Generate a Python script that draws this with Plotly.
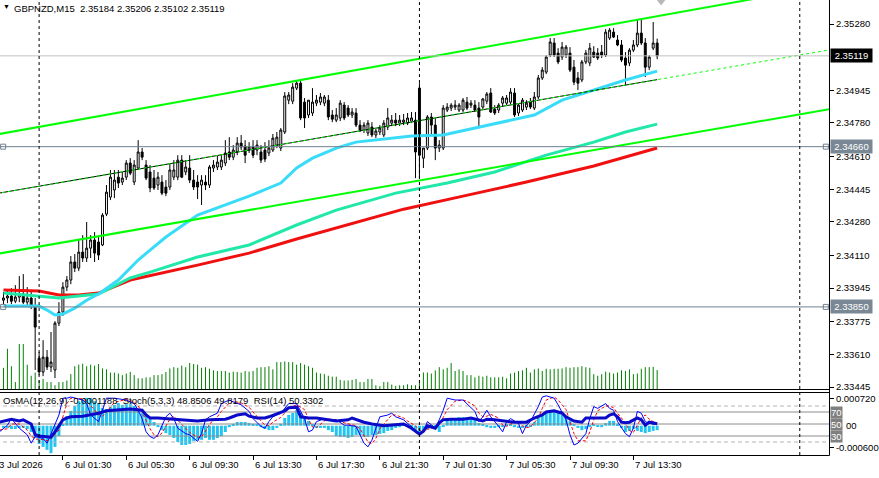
import plotly.graph_objects as go

# ---------------- data ----------------
bar_idx = list(range(-9, 157))   # 15-min bars; 0 = 6 Jul 00:00

opens = [2.33884, 2.33895, 2.33905, 2.33879, 2.33900, 2.33915, 2.33874, 2.33895, 2.33854,
         2.33591, 2.33521, 2.33596, 2.33546, 2.33531, 2.33768, 2.33824, 2.33950, 2.33986, 2.34077,
         2.34046, 2.34127, 2.34097, 2.34147, 2.34188, 2.34178, 2.34163, 2.34319, 2.34405, 2.34441,
         2.34506, 2.34481, 2.34506, 2.34577, 2.34481, 2.34552, 2.34633, 2.34567, 2.34532, 2.34501,
         2.34466, 2.34481, 2.34456, 2.34456, 2.34506, 2.34506, 2.34592, 2.34532, 2.34552, 2.34491,
         2.34481, 2.34466, 2.34481, 2.34466, 2.34552, 2.34557, 2.34557, 2.34577, 2.34633, 2.34607,
         2.34633, 2.34678, 2.34663, 2.34643, 2.34658, 2.34643, 2.34633, 2.34643, 2.34628, 2.34643,
         2.34668, 2.34653, 2.34734, 2.34895, 2.34890, 2.34956, 2.34981, 2.34885, 2.34820, 2.34830,
         2.34880, 2.34885, 2.34880, 2.34895, 2.34820, 2.34794, 2.34805, 2.34870, 2.34855, 2.34820,
         2.34830, 2.34769, 2.34744, 2.34729, 2.34759, 2.34719, 2.34734, 2.34719, 2.34759, 2.34779,
         2.34794, 2.34779, 2.34784, 2.34779, 2.34789, 2.34794, 2.34956, 2.34602, 2.34653, 2.34810,
         2.34769, 2.34653, 2.34653, 2.34845, 2.34855, 2.34860, 2.34845, 2.34845, 2.34885, 2.34870,
         2.34870, 2.34855, 2.34860, 2.34890, 2.34931, 2.34850, 2.34845, 2.34880, 2.34880, 2.34885,
         2.34931, 2.34830, 2.34845, 2.34860, 2.34885, 2.34855, 2.34911, 2.35007, 2.35037, 2.35123,
         2.35184, 2.35133, 2.35113, 2.35123, 2.35133, 2.35062, 2.35007, 2.34997, 2.35088, 2.35083,
         2.35138, 2.35133, 2.35138, 2.35123, 2.35209, 2.35239, 2.35199, 2.35174, 2.35108, 2.35083,
         2.35148, 2.35174, 2.35234, 2.35184, 2.35062, 2.35158, 2.35184]
highs = [2.33925, 2.33935, 2.33945, 2.33960, 2.34006, 2.34016, 2.33950, 2.33930, 2.33895,
         2.33622, 2.33682, 2.33632, 2.33723, 2.33778, 2.33874, 2.33975, 2.34006, 2.34107, 2.34117,
         2.34188, 2.34213, 2.34279, 2.34213, 2.34228, 2.34208, 2.34324, 2.34466, 2.34542, 2.34542,
         2.34542, 2.34532, 2.34592, 2.34602, 2.34592, 2.34693, 2.34653, 2.34592, 2.34567, 2.34542,
         2.34532, 2.34516, 2.34491, 2.34577, 2.34592, 2.34617, 2.34617, 2.34592, 2.34617, 2.34542,
         2.34516, 2.34516, 2.34516, 2.34567, 2.34592, 2.34617, 2.34617, 2.34693, 2.34708, 2.34668,
         2.34708, 2.34719, 2.34693, 2.34683, 2.34693, 2.34693, 2.34668, 2.34683, 2.34693, 2.34724,
         2.34734, 2.34754, 2.34936, 2.34936, 2.34981, 2.34992, 2.34992, 2.34906, 2.34895, 2.34956,
         2.34921, 2.34931, 2.34921, 2.34921, 2.34845, 2.34855, 2.34895, 2.34885, 2.34870, 2.34855,
         2.34855, 2.34794, 2.34784, 2.34794, 2.34784, 2.34754, 2.34769, 2.34794, 2.34855, 2.34820,
         2.34830, 2.34820, 2.34825, 2.34830, 2.34835, 2.34835, 2.34981, 2.34653, 2.34820, 2.34830,
         2.34805, 2.34693, 2.34870, 2.34880, 2.34880, 2.34895, 2.34880, 2.34906, 2.34911, 2.34895,
         2.34895, 2.34885, 2.34906, 2.34936, 2.34956, 2.34870, 2.34880, 2.34916, 2.34921, 2.34956,
         2.34956, 2.34880, 2.34906, 2.34895, 2.34906, 2.34936, 2.35022, 2.35062, 2.35123, 2.35209,
         2.35209, 2.35158, 2.35189, 2.35174, 2.35163, 2.35098, 2.35037, 2.35098, 2.35148, 2.35184,
         2.35168, 2.35158, 2.35174, 2.35254, 2.35259, 2.35259, 2.35224, 2.35199, 2.35138, 2.35158,
         2.35199, 2.35300, 2.35300, 2.35209, 2.35123, 2.35290, 2.35206]
lows = [2.33864, 2.33869, 2.33864, 2.33869, 2.33874, 2.33864, 2.33859, 2.33839, 2.33531,
        2.33505, 2.33500, 2.33531, 2.33521, 2.33490, 2.33753, 2.33804, 2.33930, 2.33965, 2.34026,
        2.34031, 2.34077, 2.34077, 2.34097, 2.34077, 2.34087, 2.34157, 2.34309, 2.34390, 2.34400,
        2.34451, 2.34466, 2.34491, 2.34516, 2.34466, 2.34542, 2.34592, 2.34491, 2.34430, 2.34441,
        2.34441, 2.34415, 2.34410, 2.34441, 2.34491, 2.34491, 2.34501, 2.34516, 2.34476, 2.34441,
        2.34395, 2.34365, 2.34441, 2.34451, 2.34532, 2.34542, 2.34542, 2.34562, 2.34592, 2.34592,
        2.34617, 2.34643, 2.34577, 2.34628, 2.34602, 2.34617, 2.34577, 2.34582, 2.34612, 2.34633,
        2.34653, 2.34638, 2.34724, 2.34875, 2.34875, 2.34946, 2.34794, 2.34754, 2.34805, 2.34815,
        2.34865, 2.34870, 2.34865, 2.34794, 2.34784, 2.34784, 2.34789, 2.34794, 2.34810, 2.34805,
        2.34759, 2.34734, 2.34729, 2.34714, 2.34708, 2.34703, 2.34719, 2.34708, 2.34744, 2.34764,
        2.34764, 2.34764, 2.34769, 2.34769, 2.34779, 2.34501, 2.34501, 2.34552, 2.34643, 2.34719,
        2.34592, 2.34633, 2.34643, 2.34835, 2.34840, 2.34845, 2.34835, 2.34835, 2.34845, 2.34855,
        2.34835, 2.34764, 2.34845, 2.34875, 2.34830, 2.34820, 2.34830, 2.34865, 2.34870, 2.34875,
        2.34810, 2.34815, 2.34835, 2.34845, 2.34850, 2.34845, 2.34901, 2.34997, 2.35027, 2.35113,
        2.35113, 2.35077, 2.35098, 2.35108, 2.35037, 2.34971, 2.34946, 2.34986, 2.35077, 2.35067,
        2.35108, 2.35098, 2.35108, 2.35113, 2.35199, 2.35209, 2.35168, 2.35088, 2.34971, 2.35067,
        2.35138, 2.35163, 2.35174, 2.35012, 2.35047, 2.35148, 2.35102]
closes = [2.33895, 2.33905, 2.33879, 2.33900, 2.33915, 2.33874, 2.33895, 2.33854, 2.33748,
          2.33521, 2.33596, 2.33546, 2.33571, 2.33768, 2.33824, 2.33950, 2.33986, 2.34077, 2.34046,
          2.34127, 2.34097, 2.34147, 2.34188, 2.34122, 2.34112, 2.34314, 2.34430, 2.34506, 2.34491,
          2.34476, 2.34501, 2.34577, 2.34526, 2.34567, 2.34633, 2.34607, 2.34501, 2.34451, 2.34451,
          2.34506, 2.34425, 2.34425, 2.34542, 2.34542, 2.34592, 2.34506, 2.34557, 2.34491, 2.34456,
          2.34456, 2.34491, 2.34466, 2.34557, 2.34567, 2.34582, 2.34592, 2.34628, 2.34607, 2.34643,
          2.34678, 2.34658, 2.34617, 2.34658, 2.34617, 2.34668, 2.34592, 2.34597, 2.34653, 2.34703,
          2.34708, 2.34744, 2.34916, 2.34921, 2.34961, 2.34981, 2.34805, 2.34805, 2.34895, 2.34885,
          2.34895, 2.34911, 2.34911, 2.34810, 2.34799, 2.34820, 2.34880, 2.34805, 2.34820, 2.34835,
          2.34769, 2.34744, 2.34769, 2.34779, 2.34719, 2.34739, 2.34754, 2.34779, 2.34805, 2.34794,
          2.34779, 2.34794, 2.34794, 2.34805, 2.34805, 2.34633, 2.34617, 2.34653, 2.34810, 2.34769,
          2.34653, 2.34668, 2.34855, 2.34860, 2.34870, 2.34870, 2.34870, 2.34895, 2.34855, 2.34880,
          2.34845, 2.34810, 2.34901, 2.34926, 2.34835, 2.34830, 2.34870, 2.34906, 2.34906, 2.34936,
          2.34820, 2.34870, 2.34895, 2.34880, 2.34860, 2.34911, 2.35007, 2.35047, 2.35113, 2.35189,
          2.35123, 2.35088, 2.35163, 2.35163, 2.35047, 2.34986, 2.34981, 2.35088, 2.35133, 2.35158,
          2.35113, 2.35108, 2.35123, 2.35239, 2.35249, 2.35214, 2.35174, 2.35098, 2.35072, 2.35148,
          2.35174, 2.35234, 2.35184, 2.35062, 2.35113, 2.35184, 2.35119]

volumes = [70, 130, 75, 25, 145, 145, 80, 45, 55,
           30, 35, 25, 25, 15, 25, 25, 30, 50, 75,
           80, 83, 75, 80, 77, 82, 68, 65, 55, 55,
           52, 47, 52, 57, 47, 37, 37, 40, 40, 47,
           47, 50, 57, 68, 72, 70, 77, 72, 85, 82,
           80, 70, 72, 67, 62, 60, 60, 60, 55, 58,
           57, 55, 60, 58, 60, 70, 72, 72, 75, 65,
           88, 88, 90, 88, 88, 80, 85, 80, 75, 70,
           55, 52, 50, 45, 42, 42, 32, 30, 30, 32,
           35, 25, 25, 35, 35, 15, 12, 25, 25, 17,
           13, 15, 15, 18, 15, 15, 25, 55, 55, 52,
           62, 72, 65, 70, 85, 60, 65, 60, 47, 47,
           40, 45, 42, 45, 40, 40, 40, 42, 37, 52,
           55, 60, 62, 70, 55, 65, 68, 60, 67, 65,
           67, 67, 68, 72, 70, 72, 72, 75, 72, 70,
           50, 45, 50, 58, 55, 52, 55, 62, 60, 65,
           50, 52, 67, 72, 72, 73, 63]

osma = [-0.00006, -0.00006, -0.00009, -0.00009, -0.00006, -0.00006, -0.00009, -0.00017, -0.00033,
        -0.00049, -0.00057, -0.00065, -0.00074, -0.00057, -0.00028, 0.00005, 0.00026, 0.00040, 0.00053,
        0.00066, 0.00069, 0.00075, 0.00075, 0.00066, 0.00061, 0.00048, 0.00045, 0.00050, 0.00056,
        0.00061, 0.00056, 0.00058, 0.00058, 0.00053, 0.00042, 0.00034, 0.00029, 0.00018, 0.00010,
        -0.00004, -0.00012, -0.00020, -0.00025, -0.00033, -0.00044, -0.00052, -0.00052, -0.00049, -0.00041,
        -0.00038, -0.00038, -0.00033, -0.00038, -0.00038, -0.00033, -0.00028, -0.00017, -0.00004, 0.00005,
        0.00010, 0.00010, 0.00010, 0.00007, 0.00005, 0.00005, -0.00004, -0.00009, -0.00012, -0.00012,
        -0.00006, 0.00005, 0.00021, 0.00029, 0.00034, 0.00042, 0.00034, 0.00023, 0.00013, 0.00002,
        -0.00006, -0.00006, -0.00006, -0.00012, -0.00017, -0.00028, -0.00030, -0.00030, -0.00033, -0.00030,
        -0.00025, -0.00025, -0.00030, -0.00030, -0.00025, -0.00025, -0.00022, -0.00020, -0.00014, -0.00012,
        -0.00006, -0.00004, 0.00002, 0.00005, -0.00004, -0.00012, -0.00017, -0.00014, -0.00009, -0.00004,
        -0.00001, -0.00017, -0.00001, 0.00013, 0.00018, 0.00021, 0.00023, 0.00023, 0.00021, 0.00021,
        0.00015, 0.00007, 0.00002, -0.00004, -0.00006, -0.00006, -0.00004, -0.00001, 0.00002, 0.00002,
        -0.00004, -0.00006, -0.00006, -0.00004, -0.00001, 0.00010, 0.00021, 0.00029, 0.00037, 0.00040,
        0.00040, 0.00034, 0.00029, 0.00021, 0.00013, 0.00002, -0.00006, -0.00012, -0.00009, -0.00004,
        0.00005, -0.00001, -0.00004, 0.00007, 0.00013, 0.00013, 0.00005, -0.00006, -0.00017, -0.00014,
        -0.00009, -0.00014, -0.00017, -0.00020, -0.00017, -0.00014, -0.0001188]

# moving averages (read at sample bars)
ma_fast_idx = [-9, 0, 2, 4, 6, 9, 12, 15, 20, 25, 28, 32, 40, 48, 53, 61, 65, 69, 75, 80, 87, 94, 102, 111, 115, 125, 132, 140, 148, 156]
ma_fast = [2.33854, 2.33854, 2.33834, 2.33809, 2.33814, 2.33844, 2.33884, 2.33915, 2.33986, 2.34087,
           2.34137, 2.34203, 2.34314, 2.34375, 2.34410, 2.34476, 2.34552, 2.34602, 2.34653, 2.34683,
           2.34698, 2.34714, 2.34719, 2.34759, 2.34779, 2.34820, 2.34895, 2.34946, 2.34997, 2.35042]
ma_mid_idx = [-9, 3, 5, 15, 23, 28, 40, 53, 65, 75, 90, 103, 115, 128, 140, 148, 156]
ma_mid = [2.33920, 2.33900, 2.33895, 2.33915, 2.33996, 2.34026, 2.34102, 2.34163, 2.34264, 2.34339,
          2.34425, 2.34476, 2.34532, 2.34617, 2.34683, 2.34734, 2.34774]
ma_slow_idx = [-9, 0, 5, 10, 15, 23, 40, 53, 65, 92, 107, 123, 140, 156]
ma_slow = [2.33935, 2.33930, 2.33910, 2.33910, 2.33920, 2.33986, 2.34061, 2.34122, 2.34193, 2.34344,
           2.34410, 2.34481, 2.34562, 2.34653]

# equidistant channel anchors (bar index, price)
chan_anchor_idx = [0, 150]
chan_upper = [2.34760, 2.35298]
chan_middle = [2.34460, 2.34978]
chan_lower = [2.34155, 2.34677]

bid_price = 2.35119
hline_prices = [2.34660, 2.33850]

# stochastic & RSI
stoch_idx = [-10, -8, -7, -5, -3, -2, -1, 1, 2, 3, 5, 6, 7, 8, 11, 12, 13, 15, 16, 17, 19, 22, 24, 25, 26, 27, 28, 29,
             30, 31, 32, 33, 34, 35, 37, 38, 40, 41, 42, 43, 45, 46, 48, 49, 51, 53, 54, 56, 57, 58, 59, 61, 62, 63,
             65, 67, 68, 69, 70, 72, 73, 75, 77, 78, 80, 81, 82, 83, 84, 85, 86, 88, 89, 90, 92, 93, 95, 96, 97, 98,
             100, 101, 102, 103, 105, 107, 108, 110, 111, 112, 113, 114, 116, 117, 118, 119, 121, 122, 123, 124,
             126, 127, 128, 130, 131, 133, 134, 135, 136, 138, 139, 140, 141, 143, 144, 145, 146, 148, 149, 150,
             151, 152, 153, 154, 156]
stoch_main = [37, 48, 59, 43, 32, 18, 29, 26, 18, 34, 65, 93, 93, 95, 90, 84, 65, 54, 73, 93, 93, 90, 84, 73, 59, 37, 29, 26,
              32, 46, 62, 68, 59, 43, 34, 32, 21, 34, 57, 62, 68, 84, 90, 87, 82, 71, 59, 46, 43, 54, 62, 68, 76, 84,
              84, 59, 37, 40, 54, 59, 57, 57, 48, 48, 46, 32, 18, 12, 23, 43, 62, 65, 68, 62, 57, 51, 40, 32, 37, 54,
              43, 57, 73, 93, 90, 90, 84, 71, 54, 62, 73, 62, 46, 37, 54, 59, 51, 34, 48, 54,
              79, 95, 97, 93, 82, 57, 32, 15, 18, 34, 59, 79, 76, 84, 76, 73, 54, 34, 29, 43,
              71, 68, 54, 51, 48.8506]
stoch_sig = [40, 42, 50, 50, 40, 30, 25, 24, 22, 26, 40, 64, 84, 93, 92, 88, 80, 66, 63, 70, 86, 91, 87, 80, 70, 56, 42, 32,
             29, 35, 46, 58, 63, 56, 42, 36, 28, 29, 38, 50, 62, 71, 85, 88, 85, 78, 70, 56, 48, 47, 53, 61, 68, 76,
             82, 74, 58, 45, 44, 55, 58, 57, 52, 50, 47, 42, 32, 20, 17, 26, 42, 57, 65, 65, 60, 55, 47, 40, 36, 41,
             45, 51, 61, 74, 88, 90, 88, 80, 68, 62, 63, 66, 60, 48, 46, 50, 55, 47, 44, 45,
             60, 76, 90, 95, 90, 74, 55, 34, 22, 22, 37, 57, 72, 80, 80, 77, 68, 52, 39, 36,
             48, 60, 65, 58, 49.8179]
rsi_idx = [-10, -7, -5, -4, -2, -1, 0, 3, 4, 5, 6, 7, 8, 11, 13, 15, 17, 20, 23, 26, 27, 28, 30, 34, 37, 40, 43, 47, 48,
           50, 52, 53, 55, 57, 58, 60, 62, 63, 65, 66, 68, 70, 73, 75, 78, 79, 82, 84, 87, 89, 92, 94, 96, 97, 98,
           100, 101, 102, 104, 107, 109, 112, 113, 115, 118, 120, 123, 125, 127, 128, 130, 132, 133, 135, 137, 138,
           140, 143, 144, 145, 146, 147, 148, 149, 151, 152, 153, 154, 156]
rsi_vals = [53, 58, 55, 57, 50, 32, 30, 28, 37, 48, 57, 60, 62, 63, 65, 68, 72, 73, 75, 73, 65, 60, 60, 58, 57, 55, 57, 58, 60,
            65, 67, 63, 60, 60, 62, 67, 72, 77, 78, 62, 60, 60, 57, 55, 57, 60, 53, 50, 47, 48, 50, 43, 33, 38, 47,
            43, 52, 57, 58, 58, 60, 55, 58, 57, 55, 53, 53, 60, 65, 70, 72, 68, 62, 55, 53, 60,
            60, 60, 65, 67, 62, 53, 52, 53, 60, 57, 48, 53, 50.3302]
stoch_levels_dash = [80, 20]
stoch_levels_solid = [70, 50, 30]

price_ticks = [2.35280, 2.34945, 2.34780, 2.34610, 2.34445, 2.34280, 2.34110, 2.33945, 2.33775, 2.33610, 2.33445]
osma_ticks = [0.00072, -0.0006]
osma_ticktext = ["0.000720", "-0.000600"]
osma_zero_text = "00"

first_time_label = "3 Jul 2026"
time_tick_idx = [6, 22, 38, 54, 70, 86, 102, 118, 134, 150]
time_labels = ["6 Jul 01:30", "6 Jul 05:30", "6 Jul 09:30", "6 Jul 13:30", "6 Jul 17:30",
               "6 Jul 21:30", "7 Jul 01:30", "7 Jul 05:30", "7 Jul 09:30", "7 Jul 13:30"]
day_sep_idx = [0, 96, 192]

header = "GBPNZD,M15\u00a0\u00a02.35184 2.35206 2.35102 2.35119"
sub_header = "OsMA(12,26,9) -0.0001188\u00a0 Stoch(5,3,3) 48.8506 49.8179\u00a0 RSI(14) 50.3302"

# ---------------- geometry ----------------
W, H = 879, 478
PLOT_W, PLOT_H = 837, 455
X_MIN, X_MAX = -9.875, 199.375
P_BOT, P_TOP = 2.33430, 2.354013
VOL_MAX = 1230
OS_BOT, OS_TOP = -0.000789, 0.000908
ST_BOT, ST_TOP = -1.667, 103.333
MAIN_DOM = [65 / PLOT_H, 1.0]
IND_DOM = [0.0, 63 / PLOT_H]
FONT = "Liberation Sans, Arial, sans-serif"
FS = 9.5

fig = go.Figure()

# volume
vx, vy = [], []
for k, v in zip(bar_idx, volumes):
    vx += [k, k, None]
    vy += [0, v, None]
fig.add_trace(go.Scatter(x=vx, y=vy, mode="lines", line=dict(color="#008000", width=1),
                         xaxis="x", yaxis="y", hoverinfo="skip"))

# candles
fig.add_trace(go.Candlestick(x=bar_idx, open=opens, high=highs, low=lows, close=closes,
                             xaxis="x", yaxis="y2", whiskerwidth=0,
                             increasing=dict(line=dict(color="black", width=1), fillcolor="white"),
                             decreasing=dict(line=dict(color="black", width=1), fillcolor="black"),
                             hoverinfo="skip"))

# moving averages
for idx, vals, col in [(ma_slow_idx, ma_slow, "#f01010"), (ma_mid_idx, ma_mid, "#20e8a8"),
                       (ma_fast_idx, ma_fast, "#38dcf8")]:
    fig.add_trace(go.Scatter(x=idx, y=vals, mode="lines", line=dict(color=col, width=3),
                             xaxis="x", yaxis="y2", hoverinfo="skip"))

# channel lines (extended as rays)
def line_at(p, k):
    slope = (p[1] - p[0]) / (chan_anchor_idx[1] - chan_anchor_idx[0])
    return p[0] + slope * (k - chan_anchor_idx[0])

ext_x = [X_MIN - 1, X_MAX + 1]
for p in (chan_upper, chan_lower):
    fig.add_trace(go.Scatter(x=ext_x, y=[line_at(p, k) for k in ext_x], mode="lines",
                             line=dict(color="#00ff00", width=2), xaxis="x", yaxis="y2", hoverinfo="skip"))
mid_x = [X_MIN - 1, bar_idx[-1]]
fig.add_trace(go.Scatter(x=mid_x, y=[line_at(chan_middle, k) for k in mid_x], mode="lines",
                         line=dict(color="black", width=1), xaxis="x", yaxis="y2", hoverinfo="skip"))
fig.add_trace(go.Scatter(x=ext_x, y=[line_at(chan_middle, k) for k in ext_x], mode="lines",
                         line=dict(color="#00ff00", width=1, dash="3px,3px"), xaxis="x", yaxis="y2", hoverinfo="skip"))

# horizontal lines
fig.add_trace(go.Scatter(x=ext_x, y=[bid_price, bid_price], mode="lines", line=dict(color="#c0c0c0", width=1),
                         xaxis="x", yaxis="y2", hoverinfo="skip"))
for hp in hline_prices:
    fig.add_trace(go.Scatter(x=ext_x, y=[hp, hp], mode="lines", line=dict(color="#708090", width=1),
                             xaxis="x", yaxis="y2", hoverinfo="skip"))
    fig.add_trace(go.Scatter(x=[X_MIN + 0.8, X_MAX - 0.8], y=[hp, hp], mode="markers",
                             marker=dict(symbol="square-open", size=5, color="#708090", line=dict(width=1)),
                             xaxis="x", yaxis="y2", hoverinfo="skip"))

# chart-shift marker
fig.add_trace(go.Scatter(x=[bar_idx[-1] + 1], y=[P_TOP], mode="markers",
                         marker=dict(symbol="triangle-down", size=11, color="#b8b8b8"),
                         xaxis="x", yaxis="y2", hoverinfo="skip"))

# ---------------- indicator window ----------------
fig.add_trace(go.Bar(x=bar_idx, y=osma, width=0.75, marker=dict(color="#22c4f2", line=dict(width=0)),
                     xaxis="x2", yaxis="y3", hoverinfo="skip"))
for lv in stoch_levels_dash:
    fig.add_trace(go.Scatter(x=ext_x, y=[lv, lv], mode="lines", line=dict(color="#b4b4b4", width=1, dash="4px,3px"),
                             xaxis="x2", yaxis="y4", hoverinfo="skip"))
for lv in stoch_levels_solid:
    fig.add_trace(go.Scatter(x=ext_x, y=[lv, lv], mode="lines", line=dict(color="#8c8c8c", width=1),
                             xaxis="x2", yaxis="y4", hoverinfo="skip"))
fig.add_trace(go.Scatter(x=stoch_idx, y=stoch_sig, mode="lines", line=dict(color="#ff0000", width=1, dash="3px,2px"),
                         xaxis="x2", yaxis="y4", hoverinfo="skip"))
fig.add_trace(go.Scatter(x=stoch_idx, y=stoch_main, mode="lines", line=dict(color="#0000ff", width=1),
                         xaxis="x2", yaxis="y4", hoverinfo="skip"))
fig.add_trace(go.Scatter(x=rsi_idx, y=rsi_vals, mode="lines", line=dict(color="#0a0ac8", width=3),
                         xaxis="x2", yaxis="y4", hoverinfo="skip"))

# ---------------- layout ----------------
axis_common = dict(showgrid=False, zeroline=False, showline=False, fixedrange=True)
fig.update_layout(
    width=W, height=H, margin=dict(l=0, r=W - PLOT_W, t=0, b=H - PLOT_H),
    paper_bgcolor="white", plot_bgcolor="white", showlegend=False, hovermode=False,
    font=dict(family=FONT, size=FS, color="black"),
    xaxis=dict(domain=[0, 1], range=[X_MIN, X_MAX], visible=False, anchor="y",
               rangeslider=dict(visible=False), **axis_common),
    xaxis2=dict(domain=[0, 1], range=[X_MIN, X_MAX], anchor="y3", tickmode="array", tickvals=time_tick_idx,
                ticks="outside", ticklen=4, tickcolor="black", tickwidth=1, showticklabels=False, **axis_common),
    yaxis=dict(domain=MAIN_DOM, range=[0, VOL_MAX], visible=False, anchor="x", **axis_common),
    yaxis2=dict(overlaying="y", side="right", anchor="x", range=[P_BOT, P_TOP], tickmode="array",
                tickvals=price_ticks, ticktext=[f"{p:.5f}" for p in price_ticks], ticks="outside", ticklen=4,
                tickcolor="black", tickwidth=1, tickfont=dict(family=FONT, size=FS, color="black"), **axis_common),
    yaxis3=dict(domain=IND_DOM, range=[OS_BOT, OS_TOP], side="right", anchor="x2", tickmode="array",
                tickvals=osma_ticks, ticktext=osma_ticktext, ticks="outside", ticklen=4, tickcolor="black",
                tickwidth=1, tickfont=dict(family=FONT, size=FS, color="black"), **axis_common),
    yaxis4=dict(overlaying="y3", range=[ST_BOT, ST_TOP], visible=False, anchor="x2", **axis_common),
)

# frame lines and separators
def py(pix):
    return (PLOT_H - pix) / PLOT_H

shapes = []
for k in day_sep_idx:
    shapes.append(dict(type="line", xref="x", yref="paper", x0=k, x1=k, y0=py(455), y1=1,
                       line=dict(color="black", width=1, dash="3px,3px")))
xr = (PLOT_W + 0.5) / PLOT_W
shapes.append(dict(type="line", xref="paper", yref="paper", x0=xr, x1=xr, y0=py(455.5), y1=1,
                   line=dict(color="black", width=1)))
for pix in [389.5, 392.5, 455.5]:
    shapes.append(dict(type="line", xref="paper", yref="paper", x0=0, x1=xr, y0=py(pix), y1=py(pix),
                       line=dict(color="black", width=1)))
fig.update_layout(shapes=shapes)

ann = []
ann.append(dict(text="\u25bc", xref="paper", yref="paper", x=0, y=1, xanchor="left", yanchor="top",
                xshift=1, yshift=-1, showarrow=False, font=dict(size=7, color="black")))
ann.append(dict(text=header, xref="paper", yref="paper", x=0, y=1, xanchor="left", yanchor="top",
                xshift=12, yshift=-1, showarrow=False, font=dict(family=FONT, size=FS, color="black")))
ann.append(dict(text=sub_header, xref="paper", yref="paper", x=0, y=py(392), xanchor="left", yanchor="top",
                xshift=1, yshift=-1, showarrow=False, font=dict(family=FONT, size=FS, color="black")))
ann.append(dict(text=first_time_label, xref="paper", yref="paper", x=0, y=0, xanchor="left", yanchor="top",
                xshift=-3, yshift=-2, showarrow=False, font=dict(family=FONT, size=FS, color="black")))
for k, lab in zip(time_tick_idx, time_labels):
    ann.append(dict(text=lab, xref="x2", yref="paper", x=k, y=0, xanchor="left", yanchor="top",
                    xshift=0, yshift=-2, showarrow=False, font=dict(family=FONT, size=FS, color="black")))
# price boxes
ann.append(dict(text=f"{bid_price:.5f}", xref="paper", yref="y2", x=1, y=bid_price, xanchor="left",
                yanchor="middle", xshift=1, showarrow=False, bgcolor="black", borderpad=1, width=39,
                align="center", font=dict(family=FONT, size=FS, color="white")))
for hp in hline_prices:
    ann.append(dict(text=f"{hp:.5f}", xref="paper", yref="y2", x=1, y=hp, xanchor="left",
                    yanchor="middle", xshift=1, showarrow=False, bgcolor="#7a8794", borderpad=1, width=39,
                    align="center", font=dict(family=FONT, size=FS, color="white")))
for lv in stoch_levels_solid:
    ann.append(dict(text=str(lv), xref="paper", yref="y4", x=1, y=lv, xanchor="left", yanchor="middle",
                    xshift=1, showarrow=False, bgcolor="#808080", borderpad=0,
                    font=dict(family=FONT, size=FS, color="white")))
ann.append(dict(text=osma_zero_text, xref="paper", yref="y3", x=1, y=0, xanchor="left", yanchor="middle",
                xshift=15, showarrow=False, font=dict(family=FONT, size=FS, color="black")))
fig.update_layout(annotations=ann)

fig.write_html("out.html")
